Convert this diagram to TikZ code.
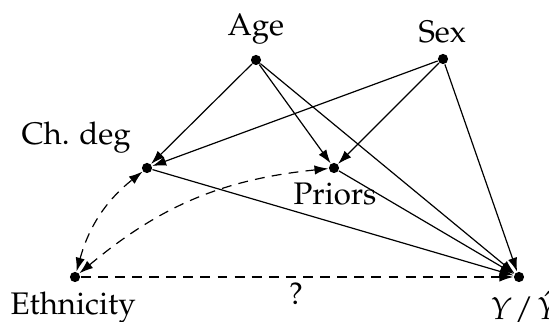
\documentclass[tikz,border=0pt]{standalone}
\usepackage[T1]{fontenc}
\usepackage{mathpazo}
\usetikzlibrary{arrows.meta}
\begin{document}
\begin{tikzpicture}[x=0.3333pt,y=-0.3333pt,
  vdot/.style={circle,fill=black,inner sep=0pt,minimum size=3.4pt},
  lab/.style={inner sep=0pt,anchor=base west,font=\fontsize{10.4}{12}\selectfont},
  arr/.style={-{Latex[length=4.6pt,width=3.1pt]},line width=0.4pt},
  darr/.style={{Latex[length=4.6pt,width=3.1pt]}-{Latex[length=4.6pt,width=3.1pt]},line width=0.4pt,dash pattern=on 3.3pt off 2.4pt}]
\useasboundingbox (0,0) rectangle (549,322);
\node[vdot] (age) at (256,60) {};
\node[vdot] (sex) at (443,59) {};
\node[vdot] (ch) at (147,168) {};
\node[vdot] (pr) at (334,168) {};
\node[vdot] (eth) at (75,277) {};
\node[vdot] (y) at (519,277) {};
\node[lab] (agel) at (227,36) {Age};
\node[lab] (sexl) at (418,43) {Sex};
\node[lab] (chl) at (21,145) {Ch. deg};
\node[lab] (prl) at (293,205) {Priors};
\node[lab] (ethl) at (10,315) {Ethnicity};
\node[lab] (yl) at (490,320) {$Y\mkern1mu/\mkern2mu\hat{Y}$};
\draw[arr] (age) -- (ch);
\draw[arr] (age) -- (pr);
\draw[arr] (age) -- (y);
\draw[arr] (sex) -- (ch);
\draw[arr] (sex) -- (pr);
\draw[arr] (sex) -- (y);
\draw[arr] (ch) -- (y);
\draw[arr] (pr) -- (y);
\draw[arr,dash pattern=on 3.3pt off 2.4pt] (eth) -- (y);
\node[lab,anchor=base] (q) at (296,305) {?};
\draw[darr] (eth) to[bend left=18] (ch);
\draw[darr] (eth) to[bend left=17] (pr);
\end{tikzpicture}
\end{document}
